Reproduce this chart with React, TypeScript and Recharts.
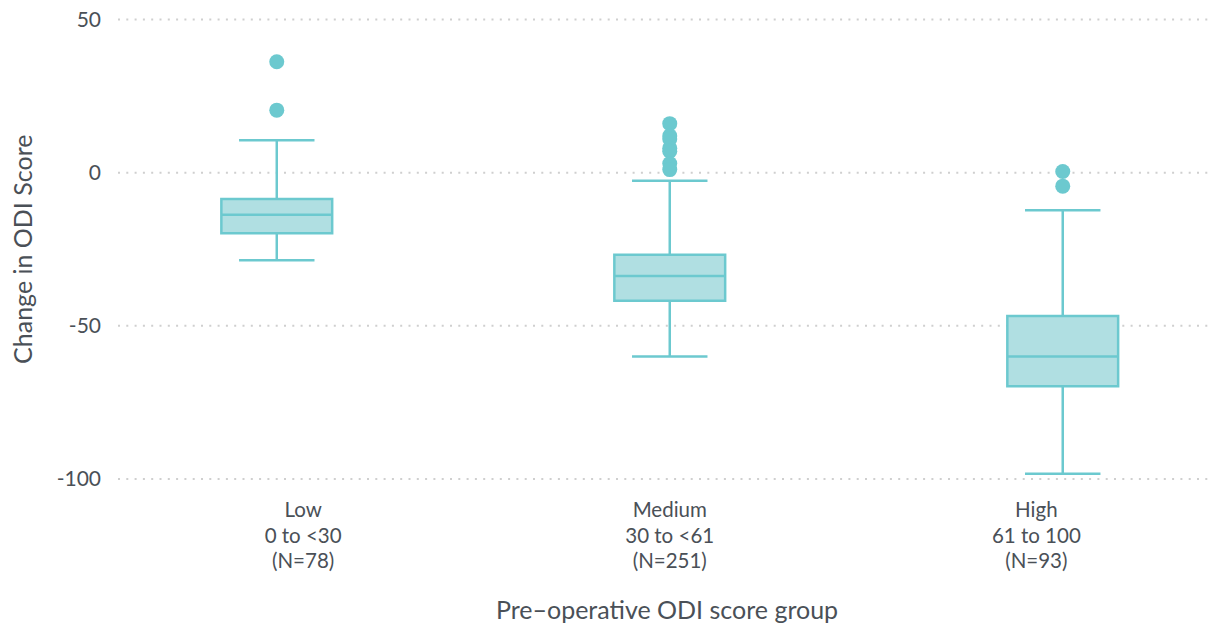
import React from 'react';
import {
  ComposedChart,
  XAxis,
  YAxis,
  CartesianGrid,
  ReferenceArea,
  ReferenceLine,
  Scatter,
} from 'recharts';

const groups = ['Low', 'Medium', 'High'];
const ranges = ['0 to <30', '30 to <61', '61 to 100'];
const counts = ['(N=78)', '(N=251)', '(N=93)'];
const whiskerLow = [-28.6, -60.0, -98.3];
const q1 = [-19.8, -41.8, -69.7];
const median = [-13.7, -33.7, -60.0];
const q3 = [-8.6, -26.8, -46.8];
const whiskerHigh = [10.6, -2.6, -12.3];
const outliersLow = [36.2, 20.4];
const outliersMedium = [16, 12, 11, 8, 7, 3, 1];
const outliersHigh = [0.4, -4.4];
const yTicks = [-100, -50, 0, 50];
const xTicks = [0, 1, 2];

const outlierData = [outliersLow, outliersMedium, outliersHigh].flatMap((arr, i) =>
  arr.map((v) => ({ x: i, y: v }))
);
const labelAnchorData = xTicks.map((t) => ({ x: t, y: median[t] }));

const STROKE = '#6cc9cf';
const FILL = '#b0dfe2';
const TEXT = '#4a5057';
const FONT = 'Lato, "Open Sans", sans-serif';
const BOX_HALF = 0.141;
const CAP_HALF = 0.096;

const XTick = (props: any) => {
  const { x, y, payload } = props;
  const i = payload.value as number;
  const lines = [groups[i], ranges[i], counts[i]];
  return (
    <text x={x} y={y} textAnchor="middle" fill={TEXT} fontSize={20.5} fontFamily={FONT}>
      {lines.map((l, k) => (
        <tspan key={k} x={x} dy={k === 0 ? 38 : 25.5}>
          {l}
        </tspan>
      ))}
    </text>
  );
};

const YLabel = (props: any) => {
  const vb = props.viewBox;
  const x = vb.x + 13.7;
  const y = vb.y + vb.height / 2;
  return (
    <text
      x={x}
      y={y}
      transform={`rotate(-90 ${x} ${y})`}
      textAnchor="middle"
      dominantBaseline="central"
      fill={TEXT}
      fontSize={25}
      fontFamily={FONT}
    >
      Change in ODI Score
    </text>
  );
};

const XLabel = (props: any) => {
  const vb = props.viewBox;
  const x = vb.x + vb.width / 2;
  const y = vb.y + 140;
  return (
    <text x={x} y={y} textAnchor="middle" fill={TEXT} fontSize={25} fontFamily={FONT}>
      Pre–operative ODI score group
    </text>
  );
};

const Dot = (props: any) => <circle cx={props.cx} cy={props.cy} r={7.5} fill={STROKE} />;
const Nothing = () => <g />;

export default function App() {
  return (
    <div style={{ fontFamily: FONT, marginTop: -8, marginLeft: -8, width: 1216, height: 624 }}>
      <ComposedChart
        width={1216}
        height={624}
        margin={{ top: 19.5, right: 0, bottom: 0, left: 8 }}
      >
        <CartesianGrid
          horizontal={true}
          vertical={false}
          stroke="#cfcfcf"
          strokeWidth={2}
          strokeDasharray="2 6.3"
        />
        <XAxis
          xAxisId="labels"
          type="number"
          dataKey="x"
          domain={[-0.505, 2.49]}
          ticks={xTicks}
          allowDataOverflow
          axisLine={false}
          tickLine={false}
          tickSize={0}
          tickMargin={0}
          height={145}
          tick={<XTick />}
          label={<XLabel />}
          interval={0}
        />
        <XAxis
          xAxisId="box"
          type="number"
          dataKey="x"
          domain={[-0.404, 2.39]}
          ticks={xTicks}
          allowDataOverflow
          height={0}
          hide
        />
        <YAxis
          type="number"
          dataKey="y"
          domain={[-100, 50]}
          ticks={yTicks}
          allowDataOverflow
          axisLine={false}
          tickLine={false}
          tickSize={0}
          tickMargin={17}
          width={110}
          tick={{ fill: TEXT, fontSize: 21, fontFamily: FONT }}
          label={<YLabel />}
          interval={0}
        />
        {groups.map((g, i) => (
          <ReferenceLine
            key={'wu' + g}
            xAxisId="box"
            segment={[
              { x: i, y: q3[i] },
              { x: i, y: whiskerHigh[i] },
            ]}
            stroke={STROKE}
            strokeWidth={2.5}
          />
        ))}
        {groups.map((g, i) => (
          <ReferenceLine
            key={'wl' + g}
            xAxisId="box"
            segment={[
              { x: i, y: q1[i] },
              { x: i, y: whiskerLow[i] },
            ]}
            stroke={STROKE}
            strokeWidth={2.5}
          />
        ))}
        {groups.map((g, i) => (
          <ReferenceLine
            key={'cu' + g}
            xAxisId="box"
            segment={[
              { x: i - CAP_HALF, y: whiskerHigh[i] },
              { x: i + CAP_HALF, y: whiskerHigh[i] },
            ]}
            stroke={STROKE}
            strokeWidth={2.5}
          />
        ))}
        {groups.map((g, i) => (
          <ReferenceLine
            key={'cl' + g}
            xAxisId="box"
            segment={[
              { x: i - CAP_HALF, y: whiskerLow[i] },
              { x: i + CAP_HALF, y: whiskerLow[i] },
            ]}
            stroke={STROKE}
            strokeWidth={2.5}
          />
        ))}
        {groups.map((g, i) => (
          <ReferenceArea
            key={'box' + g}
            xAxisId="box"
            x1={i - BOX_HALF}
            x2={i + BOX_HALF}
            y1={q1[i]}
            y2={q3[i]}
            fill={FILL}
            fillOpacity={1}
            stroke={STROKE}
            strokeWidth={2.5}
          />
        ))}
        {groups.map((g, i) => (
          <ReferenceLine
            key={'md' + g}
            xAxisId="box"
            segment={[
              { x: i - BOX_HALF, y: median[i] },
              { x: i + BOX_HALF, y: median[i] },
            ]}
            stroke={STROKE}
            strokeWidth={2.5}
          />
        ))}
        <Scatter
          xAxisId="labels"
          data={labelAnchorData}
          dataKey="y"
          shape={<Nothing />}
          isAnimationActive={false}
        />
        <Scatter
          xAxisId="box"
          data={outlierData}
          dataKey="y"
          shape={<Dot />}
          isAnimationActive={false}
        />
      </ComposedChart>
    </div>
  );
}
